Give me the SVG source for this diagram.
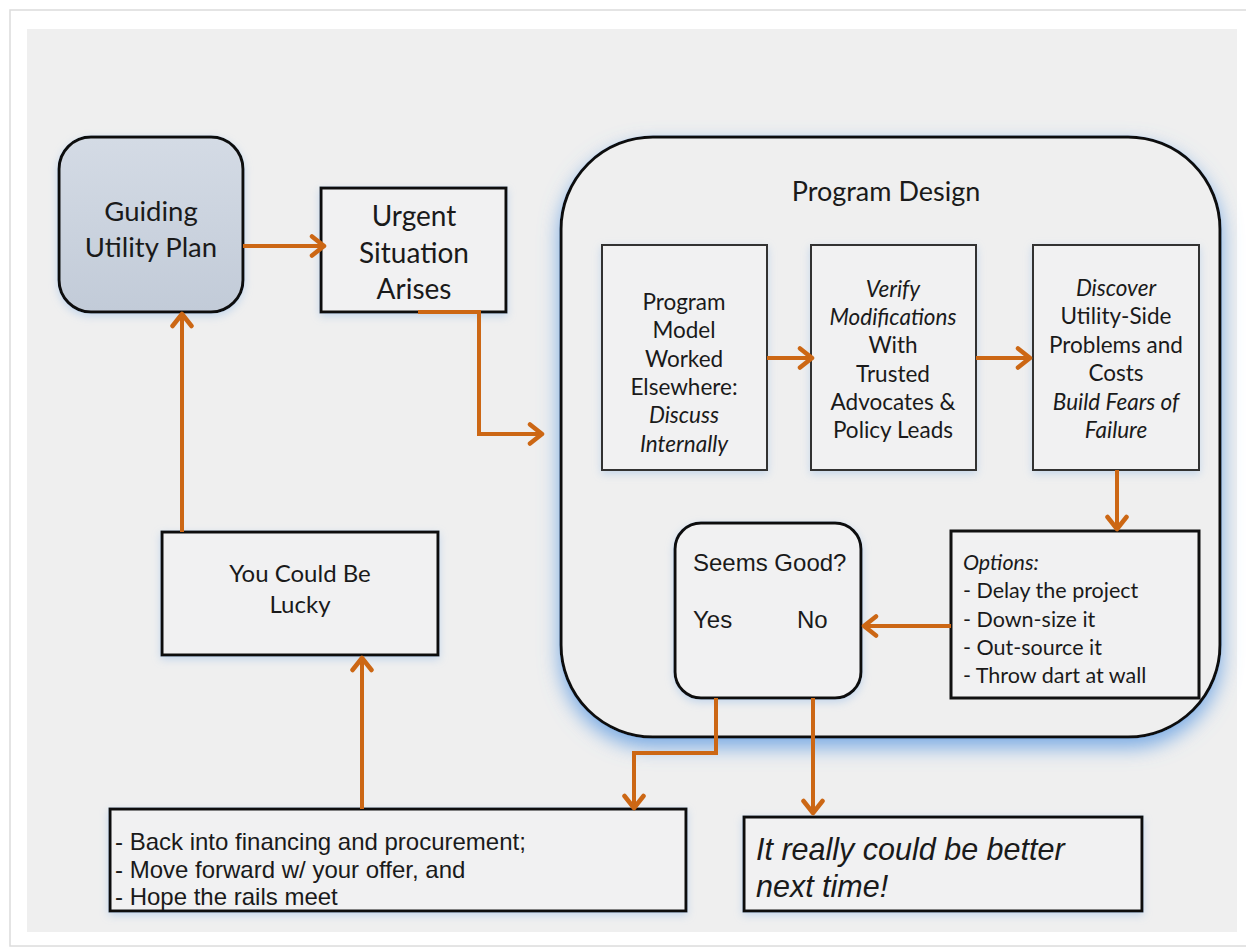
<svg xmlns="http://www.w3.org/2000/svg" width="1246" height="948" viewBox="0 0 1246 948">
<defs>
<style>
.cal{font-family:Lato,"Open Sans","Liberation Sans",sans-serif;fill:#1a1a1a}
.ari{font-family:"Liberation Sans",Arial,sans-serif;fill:#1a1a1a}
.it{font-style:italic}
.mid{text-anchor:middle}
.box{fill:#f1f1f2;stroke:#111;stroke-width:3}
.ibox{fill:#f1f1f2;stroke:#333;stroke-width:2}
.con{fill:none;stroke:#cc6714;stroke-width:4;stroke-linejoin:miter}
</style>
<linearGradient id="gBlue" x1="0" y1="0" x2="0" y2="1">
<stop offset="0" stop-color="#d4dbe5"/>
<stop offset="1" stop-color="#c2cbd8"/>
</linearGradient>
<filter id="glow" x="-10%" y="-10%" width="120%" height="125%">
<feDropShadow dx="0" dy="9" stdDeviation="10" flood-color="#5b9ae2" flood-opacity="0.8"/>
</filter>
<filter id="glowS" x="-10%" y="-10%" width="120%" height="130%">
<feDropShadow dx="0" dy="3" stdDeviation="4" flood-color="#8fb8e6" flood-opacity="0.45"/>
</filter>
<marker id="arr" viewBox="0 0 18 24" refX="15" refY="12" markerWidth="18" markerHeight="24" markerUnits="userSpaceOnUse" orient="auto">
<path d="M3,2.5 L15,12 L3,21.5" fill="none" stroke="#cc6714" stroke-width="4.5" stroke-linecap="round" stroke-linejoin="round"/>
</marker>
</defs>

<rect x="0" y="0" width="1246" height="948" fill="#ffffff"/>
<rect x="10" y="10" width="1250" height="936" fill="#ffffff" stroke="#dcdcdc" stroke-width="1.5"/>
<rect x="27" y="29" width="1210" height="903" fill="#efefef"/>

<g id="program-design">
<rect x="561" y="137" width="659" height="600" rx="92" ry="92" fill="#efefef" stroke="#111" stroke-width="3" filter="url(#glow)"/>
<text class="cal mid" x="886" y="201" font-size="27">Program Design</text>
</g>

<g id="guiding">
<rect x="59" y="137" width="184" height="175" rx="32" ry="32" fill="url(#gBlue)" stroke="#111" stroke-width="3" filter="url(#glowS)"/>
<text class="cal mid" x="151" y="221" font-size="27.5">Guiding</text>
<text class="cal mid" x="151" y="257" font-size="27.5">Utility Plan</text>
</g>

<g id="urgent">
<rect class="box" x="321" y="188" width="185" height="124" filter="url(#glowS)"/>
<text class="cal mid" x="414" y="226" font-size="28">Urgent</text>
<text class="cal mid" x="414" y="263" font-size="28">Situation</text>
<text class="cal mid" x="414" y="299" font-size="28">Arises</text>
</g>

<g id="model">
<rect class="ibox" x="602" y="245" width="165" height="225" filter="url(#glowS)"/>
<text class="cal mid" x="684" y="310" font-size="22.5">Program</text>
<text class="cal mid" x="684" y="338" font-size="22.5">Model</text>
<text class="cal mid" x="684" y="367" font-size="22.5">Worked</text>
<text class="cal mid" x="684" y="395" font-size="22.5">Elsewhere:</text>
<text class="cal mid it" x="684" y="423" font-size="22.5">Discuss</text>
<text class="cal mid it" x="684" y="452" font-size="22.5">Internally</text>
</g>

<g id="verify">
<rect class="ibox" x="811" y="245" width="165" height="225" filter="url(#glowS)"/>
<text class="cal mid it" x="893" y="297" font-size="22.5">Verify</text>
<text class="cal mid it" x="893" y="325" font-size="22.5">Modifications</text>
<text class="cal mid" x="893" y="353" font-size="22.5">With</text>
<text class="cal mid" x="893" y="382" font-size="22.5">Trusted</text>
<text class="cal mid" x="893" y="410" font-size="22.5">Advocates &amp;</text>
<text class="cal mid" x="893" y="438" font-size="22.5">Policy Leads</text>
</g>

<g id="discover">
<rect class="ibox" x="1033" y="245" width="166" height="225" filter="url(#glowS)"/>
<text class="cal mid it" x="1116" y="296" font-size="22.5">Discover</text>
<text class="cal mid" x="1116" y="324" font-size="22.5">Utility-Side</text>
<text class="cal mid" x="1116" y="353" font-size="22.5">Problems and</text>
<text class="cal mid" x="1116" y="381" font-size="22.5">Costs</text>
<text class="cal mid it" x="1116" y="410" font-size="22.5">Build Fears of</text>
<text class="cal mid it" x="1116" y="438" font-size="22.5">Failure</text>
</g>

<g id="options">
<rect class="box" x="951" y="531" width="248" height="167" stroke-width="2.5"/>
<text class="cal it" x="963" y="570" font-size="21.5">Options:</text>
<text class="cal" x="963" y="598" font-size="21.5">- Delay the project</text>
<text class="cal" x="963" y="627" font-size="21.5">- Down-size it</text>
<text class="cal" x="963" y="655" font-size="21.5">- Out-source it</text>
<text class="cal" x="963" y="683" font-size="21.5">- Throw dart at wall</text>
</g>

<g id="seems-good">
<rect x="675" y="523" width="186" height="175" rx="26" ry="26" fill="#f1f1f2" stroke="#111" stroke-width="3" filter="url(#glowS)"/>
<text class="ari" x="693" y="571" font-size="24">Seems Good?</text>
<text class="ari" x="693" y="628" font-size="24">Yes</text>
<text class="ari" x="797" y="628" font-size="24">No</text>
</g>

<g id="lucky">
<rect class="box" x="162" y="532" width="276" height="123" filter="url(#glowS)"/>
<text class="cal mid" x="300" y="582" font-size="24">You Could Be</text>
<text class="cal mid" x="300" y="613" font-size="24">Lucky</text>
</g>

<g id="back-into">
<rect class="box" x="110" y="809" width="576" height="102" filter="url(#glowS)"/>
<text class="ari" x="115" y="850" font-size="24">- Back into financing and procurement;</text>
<text class="ari" x="115" y="878" font-size="24">- Move forward w/ your offer, and</text>
<text class="ari" x="115" y="905" font-size="24">- Hope the rails meet</text>
</g>

<g id="better">
<rect class="box" x="744" y="817" width="398" height="94" filter="url(#glowS)"/>
<text class="ari it" x="756" y="860" font-size="30.5">It really could be better</text>
<text class="ari it" x="756" y="897" font-size="30.5">next time!</text>
</g>

<g id="connectors">
<path class="con" d="M243,246 L324,246" marker-end="url(#arr)"/>
<path class="con" d="M418,312 L479,312 L479,434 L542,434" marker-end="url(#arr)"/>
<path class="con" d="M767,358 L812,358" marker-end="url(#arr)"/>
<path class="con" d="M976,358 L1030,358" marker-end="url(#arr)"/>
<path class="con" d="M1117,470 L1117,529" marker-end="url(#arr)"/>
<path class="con" d="M951,626 L864,626" marker-end="url(#arr)"/>
<path class="con" d="M716,698 L716,753 L634,753 L634,808" marker-end="url(#arr)"/>
<path class="con" d="M813,698 L813,813" marker-end="url(#arr)"/>
<path class="con" d="M362,809 L362,658" marker-end="url(#arr)"/>
<path class="con" d="M182,532 L182,314" marker-end="url(#arr)"/>
</g>
</svg>
